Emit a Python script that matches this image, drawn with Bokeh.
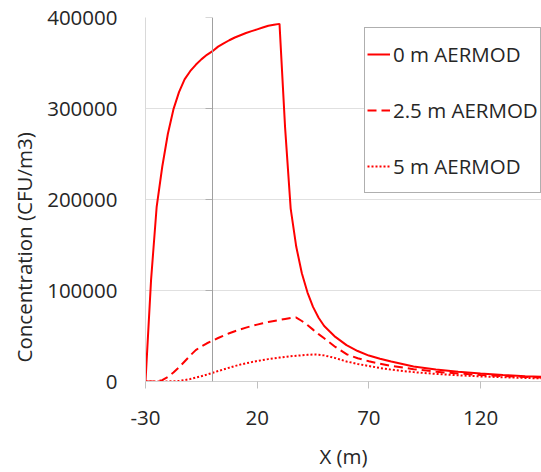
import numpy as np
from bokeh.plotting import figure
from bokeh.models import Range1d, FixedTicker, BasicTickFormatter, Span, Title
from bokeh.embed import file_html
from bokeh.resources import INLINE

# ---- data ----
x_m = [-30, -27.5, -25, -22.5, -20, -17.5, -15, -12.5, -10, -7.5, -5, -2.5,
       0, 2.5, 5, 7.5, 10, 12.5, 15, 17.5, 20, 22.5, 25, 27.5, 30, 32.5, 35,
       37.5, 40, 42.5, 45, 47.5, 50, 55, 60, 65, 70, 75, 80, 90, 100, 110,
       120, 130, 140, 150]

conc_0m = [0, 112000, 192000, 236000, 272000, 299000, 318000, 332000, 341000,
           348000, 354000, 359000, 363000, 368000, 371500, 375000, 378000,
           380500, 383000, 385000, 387000, 389000, 391000, 392000, 393000,
           279000, 190000, 148000, 119000, 98000, 82000, 70000, 61000, 49000,
           40000, 33500, 28500, 25000, 22000, 16500, 13300, 10800, 8800, 7200,
           5800, 4800]

conc_2_5m = [0, 0, 200, 1500, 5000, 9800, 15500, 22000, 28500, 34500, 38500,
             42000, 44800, 47800, 50500, 53000, 55200, 57300, 59200, 61000,
             62500, 64000, 65400, 66500, 67600, 68700, 69800, 70300, 66500,
             62000, 57000, 52000, 47500, 38000, 30000, 25500, 22300, 19500,
             17200, 13500, 10800, 8800, 7200, 6000, 5000, 4200]

conc_5m = [0, 0, 0, 30, 100, 300, 600, 1500, 2700, 4200, 5800, 7600, 9500,
           11500, 13300, 15200, 17000, 18600, 20000, 21300, 22500, 23600,
           24600, 25500, 26300, 27000, 27700, 28300, 28800, 29300, 29700,
           29500, 28700, 25700, 22000, 19300, 17000, 14800, 13000, 10300,
           8300, 6800, 5600, 4700, 3900, 3300]

x_ticks = [-30, 20, 70, 120]
x_tick_labels = {-30: "-30", 20: "20", 70: "70", 120: "120"}
y_ticks = [0, 100000, 200000, 300000, 400000]
series_labels = ["0 m AERMOD", "2.5 m AERMOD", "5 m AERMOD"]

FONT = "Open Sans"
FS = "20.5px"
TXT = "#262626"
RED = "#ff0000"

p = figure(width=541, height=472, output_backend="svg", toolbar_location=None,
           x_range=Range1d(-30, 147.3), y_range=Range1d(0, 400000),
           min_border_left=145, min_border_right=0, min_border_top=17,
           min_border_bottom=90)
p.outline_line_color = None
p.background_fill_color = "white"
p.border_fill_color = "white"

# grid
p.xgrid.grid_line_color = None
p.ygrid.grid_line_color = "#e0e0e0"
p.ygrid.grid_line_width = 1
p.ygrid.ticker = FixedTicker(ticks=y_ticks)

# x axis
p.xaxis.ticker = FixedTicker(ticks=x_ticks)
p.xaxis.major_label_overrides = x_tick_labels
p.xaxis.axis_line_color = "#d0d0d0"
p.xaxis.major_tick_line_color = "#c0c0c0"
p.xaxis.major_tick_out = 7
p.xaxis.major_tick_in = 0
p.xaxis.minor_tick_line_color = None
p.xaxis.major_label_text_font = FONT
p.xaxis.major_label_text_font_size = FS
p.xaxis.major_label_text_color = TXT
p.xaxis.major_label_standoff = 22
p.xaxis.axis_label = "X (m)"
p.xaxis.axis_label_text_font = FONT
p.xaxis.axis_label_text_font_size = FS
p.xaxis.axis_label_text_font_style = "normal"
p.xaxis.axis_label_text_color = TXT
p.xaxis.axis_label_standoff = 14

# y axis
p.yaxis.ticker = FixedTicker(ticks=y_ticks)
p.yaxis.formatter = BasicTickFormatter(use_scientific=False)
p.yaxis.axis_line_color = "#d9d9d9"
p.yaxis.major_tick_line_color = None
p.yaxis.major_tick_out = 0
p.yaxis.major_tick_in = 0
p.yaxis.minor_tick_line_color = None
p.yaxis.major_label_text_font = FONT
p.yaxis.major_label_text_font_size = FS
p.yaxis.major_label_text_color = TXT
p.yaxis.major_label_standoff = 28

ylab = Title(text="Concentration (CFU/m3)", align="left", offset=19,
             text_font=FONT, text_font_size=FS, text_font_style="normal",
             text_color=TXT, standoff=14)
p.add_layout(ylab, "left")

# vertical reference line at x = 0 with small ticks
p.add_layout(Span(location=0, dimension="height", line_color="#a0a0a0",
                  line_width=1))
p.ray(x=[0] * len(y_ticks), y=y_ticks, length=7, length_units="screen",
      angle=np.pi, line_color="#b0b0b0", line_width=1)

# series
p.line(x_m, conc_0m, line_color=RED, line_width=2, legend_label=series_labels[0])
p.line(x_m, conc_2_5m, line_color=RED, line_width=2, line_dash="9 5",
       legend_label=series_labels[1])
p.line(x_m, conc_5m, line_color=RED, line_width=2, line_dash="2 2",
       legend_label=series_labels[2])

lg = p.legend[0]
lg.location = (219, 188)
lg.border_line_color = "#606060"
lg.border_line_width = 1
lg.background_fill_color = "white"
lg.background_fill_alpha = 1
lg.padding = 2
lg.spacing = 8
lg.glyph_height = 48
lg.label_height = 48
lg.glyph_width = 23
lg.label_standoff = 3
lg.label_text_font = FONT
lg.label_text_font_size = FS
lg.label_text_color = TXT
lg.margin = 0

open("out.html", "w").write(file_html(p, INLINE))
